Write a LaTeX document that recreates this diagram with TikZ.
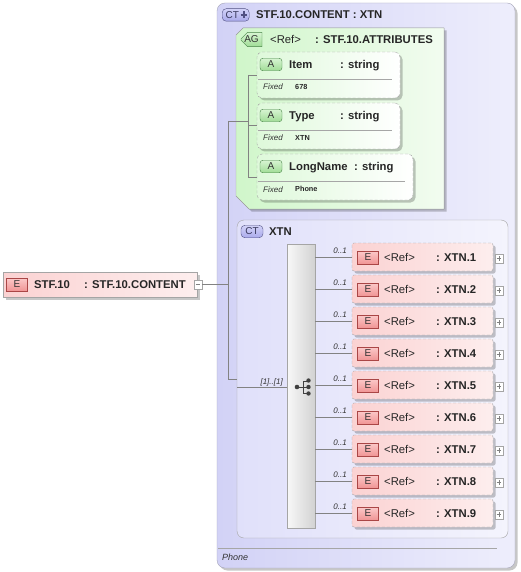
\documentclass[tikz,border=0pt]{standalone}
\usepackage{fontspec}
\setmainfont{Liberation Sans}
\usetikzlibrary{shadows,shapes.misc}
\definecolor{ctL}{RGB}{210,210,246}
\definecolor{ctR}{RGB}{238,238,252}
\definecolor{ctB}{RGB}{165,165,185}
\definecolor{xtL}{RGB}{224,224,250}
\definecolor{xtR}{RGB}{244,244,253}
\definecolor{agL}{RGB}{208,246,202}
\definecolor{agR}{RGB}{242,252,240}
\definecolor{elL}{RGB}{251,210,210}
\definecolor{elR}{RGB}{253,238,238}
\definecolor{bdr}{RGB}{165,165,165}
\definecolor{connc}{RGB}{130,130,130}
\definecolor{ebT}{RGB}{252,200,200}
\definecolor{ebB}{RGB}{240,150,150}
\definecolor{ebD}{RGB}{170,70,70}
\definecolor{abT}{RGB}{215,245,210}
\definecolor{abB}{RGB}{160,220,150}
\definecolor{abD}{RGB}{70,130,70}
\definecolor{cbT}{RGB}{210,210,248}
\definecolor{cbB}{RGB}{170,170,235}
\definecolor{cbD}{RGB}{80,80,130}
\definecolor{sqL}{RGB}{248,248,248}
\definecolor{sqR}{RGB}{210,210,210}
\begin{document}
\begin{tikzpicture}[x=1pt,y=-1pt,
 box/.style={anchor=north west, inner sep=0pt, outer sep=0pt},
 shad/.style={drop shadow={shadow xshift=2.5pt, shadow yshift=-2.5pt, fill=black, opacity=0.22}},
 elbox/.style={box, draw=bdr, dash pattern=on 3pt off 2pt, rounded corners=2pt, left color=elL, right color=elR, minimum width=141pt, minimum height=28pt, shad},
 attbox/.style={box, draw=bdr, dash pattern=on 3pt off 2pt, rounded corners=5pt, left color=agL!70, right color=white, minimum height=46pt, shad},
 badge/.style={inner sep=0pt, minimum height=12.5pt, font=\fontsize{10}{12}\selectfont, text=black!80},
 ebadge/.style={badge, draw=ebD, top color=ebT, bottom color=ebB, minimum width=21pt},
 abadge/.style={badge, draw=abD, top color=abT, bottom color=abB, minimum width=22pt, rounded corners=3pt},
 agbadge/.style={badge, draw=abD, top color=abT, bottom color=abB, minimum width=21pt, chamfered rectangle, chamfered rectangle corners={north west,south west}, chamfered rectangle xsep=3pt},
 ctbadge/.style={badge, draw=cbD, top color=cbT, bottom color=cbB, rounded corners=4pt, text=cbD!70!black},
 lbl/.style={anchor=base west, inner sep=0pt, font=\fontsize{11.3}{13}\selectfont\bfseries, text=black!85},
 rlbl/.style={anchor=base west, inner sep=0pt, font=\fontsize{11.3}{13}\selectfont, text=black!85},
 card/.style={anchor=base east, inner sep=0pt, font=\fontsize{8}{10}\selectfont\itshape, text=black!80},
 fixedl/.style={anchor=base west, inner sep=0pt, font=\fontsize{8}{10}\selectfont\itshape, text=black!80},
 fval/.style={anchor=base west, inner sep=0pt, font=\fontsize{7.3}{9}\selectfont\bfseries, text=black!85},
 pmbox/.style={draw=bdr, fill=white, minimum size=8.5pt, inner sep=0pt},
 pmline/.style={draw=gray, line width=0.5pt},
 cn/.style={draw=connc, line width=0.6pt},
 sepl/.style={draw=gray!70, line width=0.6pt}
]
\useasboundingbox (0,0) rectangle (520,572);
\fill[white] (0,0) rectangle (520,572);

% outer complex type
\node[box, minimum width=298pt, minimum height=565pt, rounded corners=8pt, draw=ctB, left color=ctL, right color=ctR, shad] (ct) at (217,3) {};
\node[ctbadge, minimum width=27pt, anchor=north west, text width=24pt, align=left] (ctb) at (222,8.5) {\hspace{2pt}CT};
\draw[cbD, line width=2pt] (240.5,14.8) -- (247,14.8);
\draw[cbD, line width=2pt] (243.75,11.5) -- (243.75,18.1);
\node[lbl] (cttitle) at (256,18.5) {STF.10.CONTENT : XTN};

% attribute group
\filldraw[draw=bdr, left color=agL, right color=agR, shad] (236,35) -- (243,28) -- (444,28) -- (444,209) -- (249,209) -- (236,196) -- cycle;
\node[agbadge] (agb) at (251.5,39.5) {AG};
\node[rlbl] (agref) at (270,43.5) {<Ref>};
\node[lbl] (agtype) at (315,43.5) {: STF.10.ATTRIBUTES};

% attributes
\node[attbox, minimum width=143pt] (item) at (257,52) {};
\node[attbox, minimum width=143pt] (type) at (257,103) {};
\node[attbox, minimum width=156pt] (lname) at (257,154) {};

\node[abadge] (ab1) at (271,64.5) {A};
\node[lbl] (in1) at (289,68.5) {Item};
\node[lbl] (it1) at (340,68.5) {: string};
\draw[sepl] (258,79) -- (392,79);
\node[fixedl] (fx1) at (263,90) {Fixed};
\node[fval] (fv1) at (295,89.5) {678};

\node[abadge] (ab2) at (271,115.5) {A};
\node[lbl] (in2) at (289,119.5) {Type};
\node[lbl] (it2) at (340,119.5) {: string};
\draw[sepl] (258,130) -- (392,130);
\node[fixedl] (fx2) at (263,141) {Fixed};
\node[fval] (fv2) at (295,140.5) {XTN};

\node[abadge] (ab3) at (271,166.5) {A};
\node[lbl] (in3) at (289,170.5) {LongName};
\node[lbl] (it3) at (354,170.5) {: string};
\draw[sepl] (258,181) -- (405,181);
\node[fixedl] (fx3) at (263,192) {Fixed};
\node[fval] (fv3) at (295,191.5) {Phone};

\coordinate (ja) at (248,75);
\coordinate (jb) at (248,125);
\coordinate (jc) at (248,177);
\coordinate (jm) at (248,121);
\draw[cn] (ja) -- (ja -| item.west);
\draw[cn] (jb) -- (jb -| type.west);
\draw[cn] (jc) -- (jc -| lname.west);
\draw[cn] (ja) -- (jc);

% inner complex type XTN
\node[box, minimum width=271pt, minimum height=318pt, rounded corners=7pt, draw=bdr, left color=xtL, right color=xtR] (xtn) at (237,220) {};
\node[ctbadge, minimum width=22pt] (xtb) at (252,231.5) {CT};
\node[lbl] (xttitle) at (269,235.5) {XTN};

% sequence compositor
\node[box, minimum width=28pt, minimum height=284pt, draw=bdr, left color=sqL, right color=sqR] (seq) at (287,244) {};
\draw[black!75, line width=0.9pt] (297,387) -- (303,387) (303,381) -- (303,393) (303,381) -- (308,381) (303,387) -- (308,387) (303,393) -- (308,393);
\fill[black!75] (297,387) circle (2.3pt);
\fill[black!75] (308.5,380.5) circle (2.2pt) (308.5,387) circle (2.2pt) (308.5,393.5) circle (2.2pt);

% main element
\node[box, minimum width=194pt, minimum height=25pt, draw=bdr, left color=elL, right color=elR, shad] (stf) at (3,272) {};
\node[ebadge] (stfb) at (17,284.5) {E};
\node[lbl] (stfn) at (34,288.5) {STF.10};
\node[lbl] (stft) at (84,288.5) {: STF.10.CONTENT};
\node[pmbox] (stfm) at (198,284.5) {};
\draw[pmline] ([xshift=2pt]stfm.west) -- ([xshift=-2pt]stfm.east);

% main connectors
\coordinate (m0) at (228,121);
\coordinate (m1) at (228,284.5);
\coordinate (m2) at (228,379);
\coordinate (s0) at (237,387);
\draw[cn] (stfm.east) -- (m1);
\draw[cn] (m0) -- (m2);
\draw[cn] (m0) -- (jm);
\draw[cn] (m2) -- (m2 -| xtn.west);
\draw[cn] (s0) -- (s0 -| seq.west);
\node[card] (mult) at (283,384) {[1]..[1]};

% child elements
\foreach \i in {1,...,9} {
  \pgfmathsetmacro\yc{257+32*(\i-1)}
  \node[elbox] (x\i) at (352,\yc-14) {};
  \draw[cn] (seq.east |- x\i.west) -- (x\i.west);
  \node[card] (c\i) at (347,\yc-4) {0..1};
  \node[ebadge] (e\i) at (368,\yc+0.5) {E};
  \node[rlbl] (r\i) at (384,\yc+4.5) {<Ref>};
  \node[lbl] (t\i) at (436,\yc+4.5) {: XTN.\i};
  \node[pmbox] (p\i) at (499,\yc+1.5) {};
  \draw[pmline] ([xshift=2pt]p\i.west) -- ([xshift=-2pt]p\i.east);
  \draw[pmline] ([yshift=-2pt]p\i.north) -- ([yshift=2pt]p\i.south);
}

% documentation
\draw[sepl] (218,548) -- (497,548);
\node[fixedl, font=\fontsize{9}{11}\selectfont\itshape] (doc) at (222,560.5) {Phone};
\end{tikzpicture}
\end{document}
